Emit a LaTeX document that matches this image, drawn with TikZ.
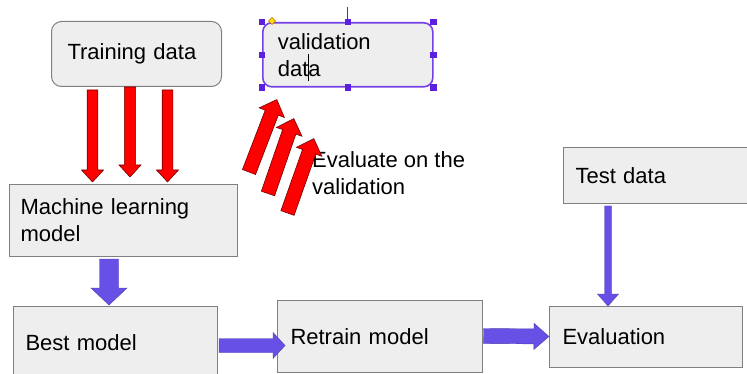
\documentclass[tikz,border=0pt]{standalone}
\usepackage{fontspec}
\setmainfont{Liberation Sans}
\usetikzlibrary{calc}
\definecolor{boxfill}{HTML}{EEEEEE}
\definecolor{boxline}{HTML}{808080}
\definecolor{arrred}{HTML}{FF0000}
\definecolor{arrblue}{HTML}{6750E6}
\definecolor{selpurple}{HTML}{5B1FE0}
% #1 style, #2 from, #3 to, #4 half shaft, #5 half head, #6 head length
\newcommand\blkarrow[6]{%
  \coordinate (ba-h) at ($(#3)!#6!(#2)$);
  \path[#1] ($(#2)!#4!90:(#3)$) -- ($(ba-h)!#4!-90:(#2)$) -- ($(ba-h)!#5!-90:(#2)$)
    -- (#3) -- ($(ba-h)!#5!90:(#2)$) -- ($(ba-h)!#4!90:(#2)$) -- ($(#2)!#4!-90:(#3)$) -- cycle;
}
\begin{document}
\begin{tikzpicture}[x=1pt,y=-1pt, font=\fontsize{22}{27}\selectfont,
  box/.style={draw=boxline, fill=boxfill, line width=1pt, anchor=north west, align=left, inner ysep=0pt},
  redarr/.style={fill=arrred, draw=red!45!black, line width=0.6pt},
  bluearr/.style={fill=arrblue, draw=arrblue!75!black, line width=0.4pt},
  handle/.style={fill=selpurple, draw=none, minimum size=6.5pt, inner sep=0pt, rectangle}]
\useasboundingbox (0,0) rectangle (747,374);
\clip (0,0) rectangle (747,374);

% boxes
\node[box, rounded corners=10pt, minimum height=65pt, inner xsep=16pt, text width=138pt] (train) at (51,21) {Training data};
\node[box, minimum height=72pt, inner xsep=11pt, text width=206pt] (ml) at (9,184) {Machine learning\\model};
\node[box, draw=selpurple!85, line width=1.6pt, rounded corners=9pt, minimum height=64pt, inner xsep=15pt, text width=140pt] (val) at (262,22) {validation\\data};
\node[box, minimum height=56pt, inner xsep=12pt, text width=176pt] (test) at (563,147) {Test data};
\node[box, minimum height=72pt, inner xsep=12pt, text width=180pt] (best) at (13,306) {Best model};
\node[box, minimum height=72pt, inner xsep=13pt, text width=179pt] (retrain) at (277,300) {Retrain model};
\node[box, minimum height=61pt, inner xsep=13pt, text width=167pt] (eval) at (549,306) {Evaluation};
\node[anchor=west, align=left, inner sep=0pt] (evtxt) at (312,173) {Evaluate on the\\validation};

% selection decorations on validation box
\draw[selpurple, line width=1.2pt] (val.north) -- ++(0,-15);
\foreach \a in {north west,north,north east,east,south east,south,south west,west}
  \node[handle] (h-\a) at (val.\a) {};
\path[fill=yellow!85!orange, draw=orange!80!black, line width=0.4pt] (272,17.5) -- (275.5,21) -- (272,24.5) -- (268.5,21) -- cycle;
\draw[black, line width=0.9pt] (308,54) -- (308,81);

% red arrows training -> ML
\coordinate (r1s) at ($(train.south)+(-44,3)$);   \coordinate (r1e) at ($(ml.north)+(-31,-2)$);
\coordinate (r2s) at ($(train.south)+(-6.5,0)$);  \coordinate (r2e) at ($(ml.north)+(6.5,-7)$);
\coordinate (r3s) at ($(train.south)+(31,3)$);    \coordinate (r3e) at ($(ml.north)+(44,-2)$);
\blkarrow{redarr}{r1s}{r1e}{5.3pt}{11pt}{12pt}
\blkarrow{redarr}{r2s}{r2e}{5.6pt}{11pt}{12pt}
\blkarrow{redarr}{r3s}{r3e}{5.3pt}{11pt}{12pt}

% red diagonal arrows towards validation
\coordinate (d1s) at (249,172);   \coordinate (d1e) at ($(val.south)+(-71,12)$);
\coordinate (d2s) at (268,193.5); \coordinate (d2e) at ($(val.south)+(-54,31)$);
\coordinate (d3s) at (287.5,213); \coordinate (d3e) at ($(val.south)+(-34,51)$);
\blkarrow{redarr}{d1s}{d1e}{7pt}{13.5pt}{14pt}
\blkarrow{redarr}{d2s}{d2e}{7pt}{13.5pt}{14pt}
\blkarrow{redarr}{d3s}{d3e}{7pt}{13.5pt}{14pt}

% blue arrows
\coordinate (b1s) at ($(ml.south)+(-14.5,2)$);   \coordinate (b1e) at ($(best.north)+(-6.5,-1)$);
\blkarrow{bluearr}{b1s}{b1e}{9.5pt}{18pt}{17pt}
\coordinate (b2s) at ($(best.east)+(1,3)$);      \coordinate (b2e) at ($(retrain.west)+(8,9)$);
\blkarrow{bluearr}{b2s}{b2e}{7pt}{13pt}{12pt}
\coordinate (b3s) at ($(retrain.east)+(0.5,-0.5)$); \coordinate (b3e) at ($(eval.west)+(0,-0.5)$);
\blkarrow{bluearr}{b3s}{b3e}{7.5pt}{13pt}{15pt}
\coordinate (b4s) at ($(test.south)+(-55.5,2)$); \coordinate (b4e) at ($(eval.north)+(-38,0)$);
\blkarrow{bluearr}{b4s}{b4e}{3.5pt}{10.5pt}{12pt}
\end{tikzpicture}
\end{document}
